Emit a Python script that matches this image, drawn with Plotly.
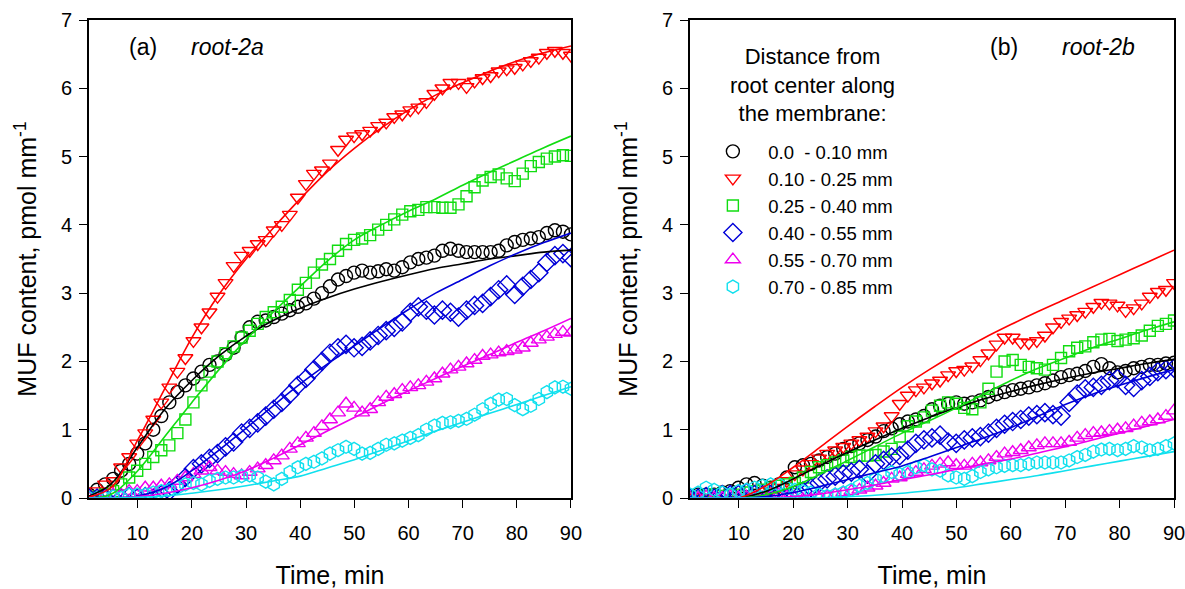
import plotly.graph_objects as go

# ---------------- data ----------------
# sampling grid of the imaging series (min)
TIME = [1 + i * 89 / 60 for i in range(61)]
# time grid of the fitted model curves (min)
FIT_TIME = [0, 5, 10, 15, 20, 25, 30, 35, 40, 45, 50, 55, 60, 65, 70, 75, 80, 85, 90]

LABELS = ["0.0\u00a0 - 0.10 mm", "0.10 - 0.25 mm", "0.25 - 0.40 mm",
          "0.40 - 0.55 mm", "0.55 - 0.70 mm", "0.70 - 0.85 mm"]

# root-2a, measured MUF content (pmol mm-1)
A_0_10 = [0.05, 0.12, 0.2, 0.28, 0.4, 0.5, 0.65, 0.8, 1.0, 1.2, 1.4, 1.55, 1.65, 1.75, 1.85, 1.95,
          2.0, 2.1, 2.2, 2.35, 2.5, 2.58, 2.6, 2.65, 2.7, 2.75, 2.8, 2.85, 2.92, 3.0, 3.1, 3.2, 3.25,
          3.3, 3.33, 3.3, 3.32, 3.35, 3.33, 3.38, 3.45, 3.5, 3.52, 3.55, 3.62, 3.65, 3.62, 3.6, 3.6,
          3.6, 3.6, 3.62, 3.7, 3.75, 3.78, 3.8, 3.82, 3.88, 3.92, 3.9, 3.86]
A_10_25 = [0.05, 0.1, 0.2, 0.25, 0.45, 0.6, 0.8, 0.95, 1.15, 1.4, 1.62, 1.85, 2.05, 2.3, 2.5, 2.72,
           2.95, 3.15, 3.4, 3.55, 3.62, 3.72, 3.78, 3.92, 4.0, 4.15, 4.4, 4.6, 4.75, 4.8, 4.9, 5.1,
           5.25, 5.3, 5.33, 5.38, 5.45, 5.5, 5.58, 5.62, 5.68, 5.72, 5.8, 5.92, 6.0, 6.08, 6.08,
           6.02, 6.1, 6.15, 6.18, 6.25, 6.28, 6.3, 6.35, 6.4, 6.45, 6.52, 6.55, 6.52, 6.48]
A_25_40 = [0.0, 0.02, 0.05, 0.1, 0.2, 0.3, 0.4, 0.5, 0.6, 0.7, 0.77, 0.95, 1.15, 1.4, 1.65, 1.85,
           2.0, 2.12, 2.22, 2.35, 2.45, 2.55, 2.65, 2.72, 2.8, 2.9, 3.05, 3.15, 3.3, 3.42, 3.5, 3.62,
           3.72, 3.78, 3.8, 3.85, 3.93, 4.0, 4.08, 4.15, 4.2, 4.22, 4.26, 4.26, 4.25, 4.25, 4.3,
           4.42, 4.55, 4.65, 4.7, 4.74, 4.68, 4.64, 4.75, 4.86, 4.92, 4.97, 5.0, 5.02, 5.01]
A_40_55 = [0.0, 0.0, 0.0, 0.0, 0.0, 0.02, 0.0, 0.02, 0.0, 0.05, 0.1, 0.2, 0.3, 0.43, 0.5, 0.58,
           0.65, 0.75, 0.82, 0.95, 1.02, 1.1, 1.2, 1.3, 1.4, 1.52, 1.65, 1.75, 1.88, 2.0, 2.12, 2.2,
           2.25, 2.2, 2.22, 2.3, 2.38, 2.45, 2.5, 2.58, 2.72, 2.8, 2.75, 2.68, 2.75, 2.72, 2.65,
           2.75, 2.82, 2.85, 2.95, 3.05, 3.12, 2.98, 3.1, 3.2, 3.3, 3.45, 3.55, 3.58, 3.52]
A_55_70 = [0.0, 0.0, 0.02, 0.05, 0.05, 0.1, 0.1, 0.15, 0.15, 0.18, 0.2, 0.25, 0.3, 0.35, 0.4, 0.45,
           0.4, 0.38, 0.35, 0.33, 0.38, 0.43, 0.48, 0.55, 0.62, 0.72, 0.8, 0.88, 0.95, 1.05, 1.15,
           1.25, 1.38, 1.32, 1.25, 1.3, 1.4, 1.48, 1.52, 1.58, 1.62, 1.65, 1.7, 1.75, 1.82, 1.88,
           1.92, 1.97, 2.02, 2.08, 2.1, 2.13, 2.15, 2.17, 2.2, 2.27, 2.32, 2.36, 2.4, 2.43, 2.42]
A_70_85 = [0.0, 0.0, 0.0, 0.02, 0.0, 0.05, 0.05, 0.05, 0.08, 0.1, 0.12, 0.15, 0.2, 0.22, 0.2, 0.25,
           0.28, 0.3, 0.3, 0.32, 0.33, 0.3, 0.24, 0.2, 0.28, 0.38, 0.45, 0.5, 0.53, 0.58, 0.65, 0.7,
           0.75, 0.72, 0.65, 0.66, 0.72, 0.78, 0.8, 0.84, 0.88, 0.92, 1.0, 1.06, 1.1, 1.11, 1.13,
           1.16, 1.22, 1.3, 1.38, 1.44, 1.45, 1.36, 1.3, 1.35, 1.45, 1.55, 1.62, 1.63, 1.6]

# root-2b, measured MUF content (pmol mm-1)
B_0_10 = [0.0, 0.05, 0.05, 0.05, 0.08, 0.1, 0.15, 0.2, 0.22, 0.18, 0.15, 0.2, 0.3, 0.45, 0.48, 0.5,
          0.55, 0.6, 0.65, 0.72, 0.76, 0.8, 0.85, 0.9, 0.98, 1.02, 1.08, 1.12, 1.15, 1.2, 1.3, 1.35,
          1.38, 1.4, 1.38, 1.4, 1.43, 1.48, 1.52, 1.55, 1.58, 1.6, 1.62, 1.65, 1.68, 1.72, 1.77,
          1.8, 1.82, 1.86, 1.92, 1.96, 1.9, 1.84, 1.86, 1.9, 1.92, 1.95, 1.95, 1.97, 1.98]
B_10_25 = [0.0, 0.02, 0.0, -0.02, -0.03, -0.05, -0.05, -0.05, 0.0, 0.05, 0.1, 0.15, 0.25, 0.35,
           0.42, 0.5, 0.58, 0.65, 0.7, 0.75, 0.8, 0.85, 0.9, 0.98, 1.05, 1.2, 1.38, 1.5, 1.58, 1.62,
           1.68, 1.72, 1.8, 1.86, 1.88, 1.93, 2.02, 2.12, 2.25, 2.35, 2.35, 2.28, 2.27, 2.3, 2.38,
           2.5, 2.58, 2.63, 2.68, 2.73, 2.8, 2.86, 2.85, 2.82, 2.74, 2.78, 2.85, 2.95, 3.02, 3.05, 3.15]
B_25_40 = [0.0, 0.02, 0.03, 0.05, 0.03, 0.05, 0.05, 0.08, 0.1, 0.12, 0.15, 0.18, 0.2, 0.22, 0.3,
           0.38, 0.45, 0.48, 0.52, 0.55, 0.6, 0.62, 0.62, 0.63, 0.68, 0.72, 0.9, 1.05, 1.12, 1.18,
           1.28, 1.35, 1.4, 1.38, 1.32, 1.3, 1.4, 1.6, 1.85, 2.0, 2.02, 1.95, 1.92, 1.9, 1.88, 1.95,
           2.05, 2.15, 2.2, 2.22, 2.28, 2.32, 2.33, 2.3, 2.32, 2.34, 2.38, 2.45, 2.52, 2.55, 2.6]
B_40_55 = [0.0, 0.0, 0.02, 0.0, 0.05, 0.05, 0.05, 0.08, 0.05, 0.05, 0.05, 0.05, 0.0, 0.05, 0.1,
           0.15, 0.22, 0.28, 0.32, 0.35, 0.38, 0.42, 0.35, 0.5, 0.55, 0.6, 0.62, 0.7, 0.8, 0.85,
           0.88, 0.92, 0.82, 0.8, 0.85, 0.88, 0.9, 0.95, 1.02, 1.08, 1.12, 1.15, 1.2, 1.22, 1.25,
           1.22, 1.2, 1.4, 1.52, 1.6, 1.62, 1.65, 1.72, 1.75, 1.65, 1.62, 1.72, 1.78, 1.85, 1.88, 1.9]
B_55_70 = [0.0, 0.0, 0.02, 0.0, 0.0, 0.02, 0.0, 0.02, 0.0, 0.0, 0.02, 0.05, 0.02, 0.0, -0.02, -0.02,
           0.0, 0.02, 0.05, 0.08, 0.1, 0.12, 0.15, 0.18, 0.22, 0.28, 0.3, 0.35, 0.38, 0.42, 0.47,
           0.5, 0.52, 0.48, 0.47, 0.5, 0.52, 0.55, 0.6, 0.65, 0.67, 0.7, 0.74, 0.77, 0.8, 0.8, 0.8,
           0.82, 0.88, 0.92, 0.95, 0.96, 0.98, 1.0, 1.02, 1.06, 1.1, 1.12, 1.15, 1.2, 1.28]
B_70_85 = [0.05, 0.08, 0.15, 0.12, 0.08, 0.05, 0.1, 0.12, 0.15, 0.18, 0.2, 0.2, 0.15, 0.12, 0.1,
           0.08, 0.05, 0.03, 0.05, 0.08, 0.12, 0.18, 0.22, 0.28, 0.32, 0.38, 0.35, 0.38, 0.45, 0.48,
           0.42, 0.4, 0.33, 0.3, 0.28, 0.32, 0.38, 0.42, 0.45, 0.47, 0.48, 0.48, 0.5, 0.52, 0.52,
           0.52, 0.52, 0.55, 0.6, 0.63, 0.68, 0.71, 0.72, 0.7, 0.72, 0.76, 0.74, 0.7, 0.72, 0.76, 0.8]

# fitted model curves, root-2a
FA_0_10 = [0, 0.2, 0.75, 1.3, 1.72, 2.08, 2.37, 2.6, 2.78, 2.93, 3.06, 3.17, 3.27, 3.36, 3.43, 3.5, 3.55, 3.6, 3.63]
FA_10_25 = [0, 0.15, 0.85, 1.6, 2.35, 2.98, 3.5, 3.95, 4.38, 4.78, 5.12, 5.42, 5.68, 5.9, 6.08, 6.25, 6.4, 6.52, 6.62]
FA_25_40 = [0, 0.05, 0.4, 0.9, 1.4, 1.88, 2.32, 2.72, 3.1, 3.47, 3.78, 4.0, 4.2, 4.38, 4.58, 4.77, 4.95, 5.13, 5.3]
FA_40_55 = [0, 0.0, 0.03, 0.15, 0.4, 0.7, 1.02, 1.35, 1.67, 1.96, 2.23, 2.5, 2.76, 3.0, 3.2, 3.4, 3.58, 3.74, 3.88]
FA_55_70 = [0, 0.0, 0.02, 0.07, 0.15, 0.26, 0.4, 0.58, 0.78, 0.98, 1.18, 1.38, 1.57, 1.75, 1.93, 2.1, 2.28, 2.45, 2.63]
FA_70_85 = [0, 0.0, 0.01, 0.03, 0.07, 0.12, 0.18, 0.25, 0.32, 0.44, 0.56, 0.7, 0.84, 0.98, 1.11, 1.24, 1.37, 1.5, 1.63]

# fitted model curves, root-2b
FB_0_10 = [0, 0, 0, 0.1, 0.28, 0.48, 0.67, 0.85, 1.02, 1.18, 1.32, 1.45, 1.56, 1.66, 1.75, 1.83, 1.9, 1.97, 2.03]
FB_10_25 = [0, 0, 0, 0.18, 0.45, 0.75, 1.05, 1.34, 1.62, 1.88, 2.12, 2.34, 2.54, 2.73, 2.91, 3.09, 3.27, 3.45, 3.63]
FB_25_40 = [0, 0, 0, 0.05, 0.17, 0.35, 0.55, 0.75, 0.95, 1.13, 1.32, 1.52, 1.72, 1.9, 2.05, 2.2, 2.33, 2.46, 2.58]
FB_40_55 = [0, 0, 0, 0.02, 0.08, 0.17, 0.27, 0.37, 0.47, 0.6, 0.74, 0.88, 1.03, 1.2, 1.37, 1.52, 1.65, 1.77, 1.88]
FB_55_70 = [0, 0, 0, 0, 0.02, 0.06, 0.12, 0.19, 0.27, 0.34, 0.42, 0.5, 0.57, 0.66, 0.75, 0.85, 0.95, 1.05, 1.15]
FB_70_85 = [0, 0, 0, 0, 0, 0, 0.02, 0.04, 0.07, 0.11, 0.15, 0.21, 0.27, 0.33, 0.4, 0.47, 0.54, 0.61, 0.68]

PANEL_A = [A_0_10, A_10_25, A_25_40, A_40_55, A_55_70, A_70_85]
PANEL_B = [B_0_10, B_10_25, B_25_40, B_40_55, B_55_70, B_70_85]
FIT_A = [FA_0_10, FA_10_25, FA_25_40, FA_40_55, FA_55_70, FA_70_85]
FIT_B = [FB_0_10, FB_10_25, FB_25_40, FB_40_55, FB_55_70, FB_70_85]

COLORS = ["#000000", "#ff0000", "#11dd11", "#0000d8", "#ee00ee", "#11e0ee"]
SYMBOLS = ["circle-open", "triangle-down-open", "square-open",
           "diamond-open", "triangle-up-open", "hexagon-open"]
SIZES = [13, 13, 11, 14, 13, 13]

FONT = "Liberation Sans, Arial, sans-serif"

fig = go.Figure()

for panel, (series, fits, xa, ya) in enumerate([(PANEL_A, FIT_A, "x", "y"),
                                                (PANEL_B, FIT_B, "x2", "y2")]):
    for k in range(6):
        fig.add_trace(go.Scatter(
            x=TIME, y=series[k], mode="markers", name="\u00a0\u00a0\u00a0" + LABELS[k],
            xaxis=xa, yaxis=ya, showlegend=(panel == 1), legendgroup=str(k),
            marker=dict(symbol=SYMBOLS[k], size=SIZES[k], color=COLORS[k],
                        line=dict(width=1.4, color=COLORS[k])),
        ))
    for k in range(6):
        fig.add_trace(go.Scatter(
            x=FIT_TIME, y=fits[k], mode="lines", showlegend=False,
            xaxis=xa, yaxis=ya,
            line=dict(color=COLORS[k], width=1.6, shape="spline", smoothing=1.0),
        ))

axis_common = dict(
    showline=True, linecolor="black", linewidth=1.6, mirror=True,
    ticks="outside", ticklen=8, tickwidth=1.4, tickcolor="black",
    showgrid=False, zeroline=False, automargin=False, ticklabeloverflow="allow",
    tickfont=dict(family=FONT, size=20, color="black"),
)
xaxis_cfg = dict(axis_common, range=[1, 90], tickvals=[10, 20, 30, 40, 50, 60, 70, 80, 90],
                 ticklabelstandoff=8,
                 title=dict(text="Time, min", font=dict(family=FONT, size=25, color="black"),
                            standoff=26))
yaxis_cfg = dict(axis_common, range=[0, 7], tickvals=[0, 1, 2, 3, 4, 5, 6, 7],
                 ticklabelstandoff=3,
                 title=dict(text="MUF content, pmol mm<sup>-1</sup>",
                            font=dict(family=FONT, size=25, color="black"), standoff=17))

TXT = dict(family=FONT, size=23, color="black")

fig.update_layout(
    width=1185, height=589,
    margin=dict(l=89, r=11, t=20, b=91),
    paper_bgcolor="white", plot_bgcolor="white",
    font=dict(family=FONT, color="black"),
    xaxis=dict(xaxis_cfg, domain=[0, 0.4442], anchor="y"),
    yaxis=dict(yaxis_cfg, domain=[0, 1], anchor="x"),
    xaxis2=dict(xaxis_cfg, domain=[0.5539, 1], anchor="y2"),
    yaxis2=dict(yaxis_cfg, domain=[0, 1], anchor="x2"),
    legend=dict(
        x=0.575, y=0.764, xanchor="left", yanchor="top",
        bgcolor="rgba(255,255,255,0)", borderwidth=0,
        font=dict(family=FONT, size=18.5, color="black"),
        tracegroupgap=0, itemsizing="trace",
    ),
    showlegend=True,
    annotations=[
        dict(text="(a)", xref="x domain", yref="y domain", x=0.112, y=0.9435,
             xanchor="center", yanchor="middle", showarrow=False, font=TXT),
        dict(text="<i>root-2a</i>", xref="x domain", yref="y domain", x=0.287, y=0.9435,
             xanchor="center", yanchor="middle", showarrow=False, font=TXT),
        dict(text="(b)", xref="x2 domain", yref="y2 domain", x=0.649, y=0.9435,
             xanchor="center", yanchor="middle", showarrow=False, font=TXT),
        dict(text="<i>root-2b</i>", xref="x2 domain", yref="y2 domain", x=0.843, y=0.9435,
             xanchor="center", yanchor="middle", showarrow=False, font=TXT),
        # legend heading
        dict(text="Distance from<br>root center along<br>the membrane:",
             xref="x2 domain", yref="y2 domain", x=0.2521, y=0.8636,
             xanchor="center", yanchor="middle", align="center", showarrow=False,
             font=dict(family=FONT, size=22, color="black")),
    ],
)

fig.write_html("out.html")
